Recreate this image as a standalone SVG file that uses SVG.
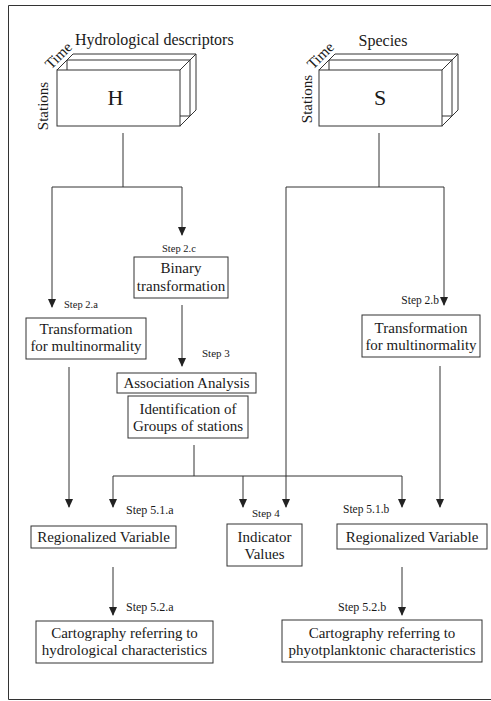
<svg xmlns="http://www.w3.org/2000/svg" width="491" height="701" viewBox="0 0 491 701">
<style>
text{font-family:'Liberation Serif',serif;fill:#1a1a1a}
.t{font-size:15px}
.s{font-size:11px}
.c{text-anchor:middle}
.b{fill:#fff;stroke:#333;stroke-width:1}
.l{fill:none;stroke:#333;stroke-width:1}
</style>
<defs>
<marker id="ad" markerWidth="9" markerHeight="8" refX="8" refY="4" orient="auto" markerUnits="userSpaceOnUse" viewBox="0 0 9 8">
<path d="M0,0 L9,4 L0,8 Z" fill="#222"/>
</marker>
</defs>
<rect width="491" height="701" fill="#fff"/>
<g id="frame" class="l">
<path d="M491,5.5 H8.5 V699.5 H491"/>
</g>
<g id="H-cube">
<path class="l" d="M57,70 L73,54 H196 V110 L180,126"/>
<path class="l" d="M180,70 L196,54"/>
<path class="l" d="M67,70 V60 H190 V116 H180"/>
<rect class="b" x="57" y="70" width="123" height="56"/>
<text class="t c" x="115.5" y="105" font-family="Liberation Serif, serif" style="font-size:22px">H</text>
<text class="t" x="75" y="45" font-family="Liberation Serif, serif" style="font-size:16px">Hydrological descriptors</text>
<text class="t c" transform="translate(48,106) rotate(-90)" font-family="Liberation Serif, serif">Stations</text>
<text class="t c" transform="translate(62,59) rotate(-45)" font-family="Liberation Serif, serif">Time</text>
</g>
<g id="S-cube">
<path class="l" d="M319,70 L335,54 H458 V110 L442,126"/>
<path class="l" d="M442,70 L458,54"/>
<path class="l" d="M329,70 V60 H452 V116 H442"/>
<rect class="b" x="319" y="70" width="123" height="56"/>
<text class="t c" x="380" y="105" font-family="Liberation Serif, serif" style="font-size:22px">S</text>
<text class="t c" x="383" y="46" font-family="Liberation Serif, serif" style="font-size:16px">Species</text>
<text class="t c" transform="translate(312,99) rotate(-90)" font-family="Liberation Serif, serif">Stations</text>
<text class="t c" transform="translate(324,59) rotate(-45)" font-family="Liberation Serif, serif">Time</text>
</g>
<g id="connectors" class="l">
<path d="M123,133 V187"/>
<path d="M52,187 H182"/>
<path d="M52,187 V307" marker-end="url(#ad)"/>
<path d="M182,187 V235" marker-end="url(#ad)"/>
<path d="M182,305 V366" marker-end="url(#ad)"/>
<path d="M379,133 V187"/>
<path d="M286,187 H444"/>
<path d="M286,187 V507" marker-end="url(#ad)"/>
<path d="M444,187 V305" marker-end="url(#ad)"/>
<path d="M69,367 V507" marker-end="url(#ad)"/>
<path d="M440,366 V507" marker-end="url(#ad)"/>
<path d="M194,445 V476"/>
<path d="M113,476 H402"/>
<path d="M113,476 V507" marker-end="url(#ad)"/>
<path d="M243,476 V507" marker-end="url(#ad)"/>
<path d="M402,476 V507" marker-end="url(#ad)"/>
<path d="M113,567 V615" marker-end="url(#ad)"/>
<path d="M402,567 V615" marker-end="url(#ad)"/>
</g>
<g id="labels" font-family="Liberation Serif, serif">
<text class="s" x="162" y="252" style="font-size:10.5px">Step 2.c</text>
<text class="s" x="64" y="308" style="font-size:10.5px">Step 2.a</text>
<text class="s" x="202" y="357">Step 3</text>
<text class="s" x="439" y="304" text-anchor="end" style="font-size:11.5px">Step 2.b</text>
<text class="s" x="126" y="514" style="font-size:12px">Step 5.1.a</text>
<text class="s" x="252" y="517">Step 4</text>
<text class="s" x="343" y="513" style="font-size:11.5px">Step 5.1.b</text>
<text class="s" x="126" y="611" style="font-size:12px">Step 5.2.a</text>
<text class="s" x="338" y="611" style="font-size:12px">Step 5.2.b</text>
</g>
<g id="binary" font-family="Liberation Serif, serif">
<rect class="b" x="134" y="257" width="94" height="41"/>
<text class="t c" x="181" y="273">Binary</text>
<text class="t c" x="181" y="291">transformation</text>
</g>
<g id="trans-a" font-family="Liberation Serif, serif">
<rect class="b" x="26" y="318" width="120" height="41"/>
<text class="t c" x="86" y="334">Transformation</text>
<text class="t c" x="86" y="351">for multinormality</text>
</g>
<g id="trans-b" font-family="Liberation Serif, serif">
<rect class="b" x="362" y="315" width="118" height="42"/>
<text class="t c" x="421" y="333">Transformation</text>
<text class="t c" x="421" y="350">for multinormality</text>
</g>
<g id="association" font-family="Liberation Serif, serif">
<rect class="b" x="117" y="373" width="139" height="20"/>
<text class="t c" x="186.5" y="388">Association Analysis</text>
</g>
<g id="identification" font-family="Liberation Serif, serif">
<rect class="b" x="128" y="396" width="120" height="42"/>
<text class="t c" x="188" y="414">Identification of</text>
<text class="t c" x="188" y="431">Groups of stations</text>
</g>
<g id="regvar-a" font-family="Liberation Serif, serif">
<rect class="b" x="31" y="526" width="145" height="22"/>
<text class="t c" x="103.5" y="542">Regionalized Variable</text>
</g>
<g id="indicator" font-family="Liberation Serif, serif">
<rect class="b" x="227" y="524" width="75" height="42"/>
<text class="t c" x="264.5" y="542">Indicator</text>
<text class="t c" x="264.5" y="559">Values</text>
</g>
<g id="regvar-b" font-family="Liberation Serif, serif">
<rect class="b" x="337" y="524" width="150" height="25"/>
<text class="t c" x="412" y="542">Regionalized Variable</text>
</g>
<g id="carto-a" font-family="Liberation Serif, serif">
<rect class="b" x="36" y="621" width="177" height="42"/>
<text class="t c" x="124.5" y="638">Cartography referring to</text>
<text class="t c" x="124.5" y="655">hydrological characteristics</text>
</g>
<g id="carto-b" font-family="Liberation Serif, serif">
<rect class="b" x="282" y="620" width="200" height="42"/>
<text class="t c" x="382" y="638">Cartography referring to</text>
<text class="t c" x="382" y="655">phyotplanktonic characteristics</text>
</g>
</svg>
